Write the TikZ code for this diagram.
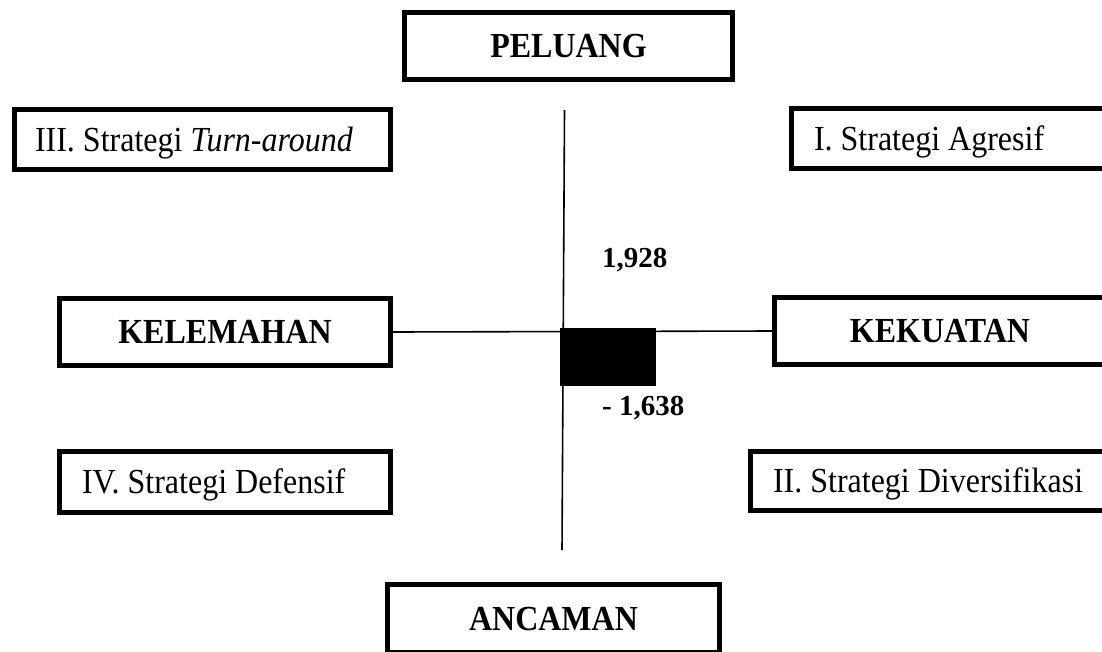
\documentclass[tikz,border=0pt]{standalone}
\usepackage{fontspec}
\setmainfont{Liberation Serif}
\newcommand{\tallt}[1]{\scalebox{1}[1.1]{#1}}
\begin{document}
\begin{tikzpicture}[x=1pt,y=-1pt,
  boxbase/.style={draw=black, line width=5pt, rectangle, inner ysep=0pt,
    text height=23.2pt, text depth=0pt, font=\fontsize{32}{38}\selectfont},
  bigbox/.style={boxbase, font=\fontsize{32}{38}\selectfont\bfseries, inner xsep=0pt},
  stratbox/.style={boxbase, inner xsep=22.5pt},
  axisline/.style={line width=1.6pt},
  numlabel/.style={font=\fontsize{29}{34}\selectfont\bfseries, inner sep=0pt,
    text height=19.4pt, text depth=0pt, anchor=west}
]
\useasboundingbox (0,0) rectangle (1102,651);
\clip (0,0) rectangle (1102,651);

% axes
\coordinate (vtop) at (564.5,110);
\coordinate (vbot) at (562,550);
\draw[axisline] (vtop) -- (vbot);

% main boxes
\node[bigbox, minimum width=328pt, minimum height=67pt] (peluang) at (568.5,46) {\tallt{PELUANG}};
\node[bigbox, minimum width=331pt, minimum height=67pt] (kelemahan) at (225,332) {\tallt{KELEMAHAN}};
\node[bigbox, minimum width=331pt, minimum height=67pt] (kekuatan) at (940,331) {\tallt{KEKUATAN}};
\node[bigbox, minimum width=332pt, minimum height=68pt] (ancaman) at (553.5,618.5) {\tallt{ANCAMAN}};

\draw[axisline] (kelemahan.east) -- (kekuatan.west);

% strategy boxes
\node[stratbox, inner xsep=20.5pt, minimum height=60pt] (s3) at (202.5,139.5) {\makebox[335pt][l]{\tallt{III. Strategi \textit{Turn-around}}}};
\node[stratbox, minimum height=60pt] (s1) at (949.5,138.5) {\makebox[271pt][l]{\tallt{I. Strategi Agresif}}};
\node[stratbox, minimum height=61pt] (s4) at (225,482) {\makebox[286pt][l]{\tallt{IV. Strategi Defensif}}};
\node[stratbox, minimum height=59pt] (s2) at (929,481) {\makebox[312pt][l]{\tallt{II. Strategi Diversifikasi}}};

% point
\node[fill=black, draw=none, minimum width=96pt, minimum height=58pt, inner sep=0pt] (pt) at (608,357) {};

% values
\node[numlabel] (vy) at (602,258) {1,928};
\node[numlabel] (vx) at (602,406) {- 1,638};
\end{tikzpicture}
\end{document}
